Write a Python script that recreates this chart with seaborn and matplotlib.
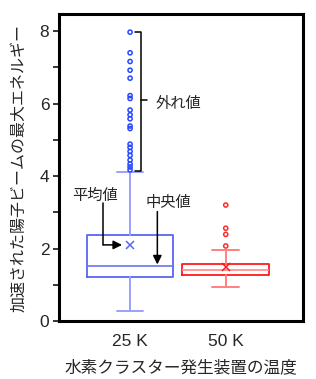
import matplotlib
matplotlib.use("Agg")
import matplotlib.pyplot as plt
import seaborn as sns
import pandas as pd

# ---- data ----
categories = ["25 K", "50 K"]
q1 = [1.21, 1.27]
medians = [1.53, 1.41]
q3 = [2.37, 1.56]
means = [2.09, 1.50]
whisker_low = [0.28, 0.93]
whisker_high = [4.12, 1.96]
outliers_25k = [7.97, 7.40, 7.16, 6.92, 6.70, 6.22, 6.14, 5.82, 5.69, 5.58,
                5.38, 5.31, 4.88, 4.79, 4.68, 4.57, 4.44, 4.33, 4.25, 4.17]
outliers_50k = [3.20, 2.56, 2.39, 2.07]
yticks = [0, 2, 4, 6, 8]

sns.set_theme(style="white")
plt.rcParams['font.family'] = ['Liberation Sans', 'Noto Sans CJK JP', 'DejaVu Sans']
cjk = ['Noto Sans CJK JP', 'DejaVu Sans']

fig = plt.figure(figsize=(3.16, 3.79), dpi=100)
ax = fig.add_axes([0.187, 0.153, 0.772, 0.81])

box_edge = ["#5a66f2", "#ff1a1a"]
light = ["#9aa0ff", "#ff8080"]
median_col = ["#6a74f2", "#ff8a8a"]
flier_col = ["#2848ff", "#ff2a2a"]

# outliers via seaborn
out_df = pd.DataFrame({
    "cat": ["25 K"] * len(outliers_25k) + ["50 K"] * len(outliers_50k),
    "val": outliers_25k + outliers_50k,
})
sns.stripplot(data=out_df, x="cat", y="val", hue="cat", order=categories,
              palette=dict(zip(categories, flier_col)), jitter=False,
              marker="o", size=3.0, facecolor="none", linewidth=1.1,
              legend=False, ax=ax)
for coll, c in zip(ax.collections, flier_col):
    coll.set_facecolor("none")
    coll.set_edgecolor(c)

stats = []
for i, cat in enumerate(categories):
    stats.append(dict(label=cat, q1=q1[i], med=medians[i], q3=q3[i],
                      mean=means[i], whislo=whisker_low[i], whishi=whisker_high[i],
                      fliers=[]))

for i in range(2):
    art = ax.bxp([stats[i]], positions=[i], widths=0.905, showmeans=True,
                 showfliers=False, patch_artist=False, manage_ticks=False,
                 boxprops=dict(color=box_edge[i], linewidth=1.3),
                 whiskerprops=dict(color=light[i], linewidth=1.4),
                 capprops=dict(color=light[i], linewidth=1.4),
                 medianprops=dict(color=median_col[i], linewidth=1.2),
                 meanprops=dict(marker="x", markeredgecolor=box_edge[i],
                                markersize=6, markeredgewidth=1.1))
    for cap in art["caps"]:
        x = cap.get_xdata()
        c = (x[0] + x[1]) / 2
        hw = 0.135 if i == 0 else 0.14
        cap.set_xdata([c - hw, c + hw])

ax.set_xlim(-0.742, 1.808)
ax.set_ylim(0, 8.47)
ax.set_xticks([0, 1])
ax.set_xticklabels(categories, fontsize=12.5)
ax.set_yticks([0, 1, 2, 3, 4, 5, 6, 7, 8])
ax.set_yticklabels([str(v) if v in yticks else "" for v in range(9)], fontsize=12.5)
ax.tick_params(axis="y", direction="out", length=4, width=1.3, pad=3, left=True)
ax.tick_params(axis="x", length=0, pad=9)
for s in ax.spines.values():
    s.set_linewidth(2.2)
    s.set_color("black")

ax.set_xlabel("水素クラスター発生装置の温度", fontsize=12, family=cjk, labelpad=8)
ax.set_ylabel("加速された陽子ビームの最大エネルギー", fontsize=11.5, family=cjk, labelpad=9)

# outlier bracket
bx = 0.115
ax.plot([0.052, bx, bx, 0.052], [7.97, 7.97, 4.14, 4.14], color="black", lw=1.1)
ax.plot([bx, 0.178], [6.10, 6.10], color="black", lw=1.1)
ax.text(0.27, 6.0, "外れ値", family=cjk, fontsize=11, va="center", ha="left")

# mean annotation
ax.text(-0.61, 3.46, "平均値", family=cjk, fontsize=11, va="center", ha="left")
ax.plot([-0.279, -0.279], [3.26, 2.10], color="black", lw=1.1)
ax.annotate("", xy=(-0.084, 2.10), xytext=(-0.279, 2.10),
            arrowprops=dict(arrowstyle="-|>", mutation_scale=13, color="black",
                            lw=1.1, shrinkA=0, shrinkB=0))

# median annotation
ax.text(0.157, 3.28, "中央値", family=cjk, fontsize=11, va="center", ha="left")
ax.annotate("", xy=(0.285, 1.56), xytext=(0.285, 3.02),
            arrowprops=dict(arrowstyle="-|>", mutation_scale=13, color="black",
                            lw=1.1, shrinkA=0, shrinkB=0))

fig.savefig("out.png", dpi=100)
